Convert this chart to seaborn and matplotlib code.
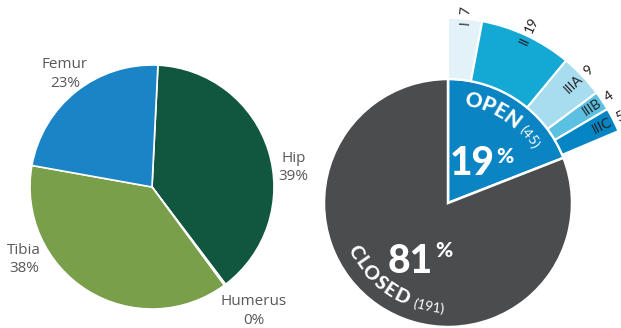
import matplotlib
matplotlib.use("Agg")
import matplotlib.pyplot as plt
import seaborn as sns
import numpy as np

# ---------------- data ----------------
site_labels = ["Hip", "Humerus", "Tibia", "Femur"]
site_values = [39, 0.2, 38, 23]          # percent of fractures by site

fx_labels = ["OPEN", "CLOSED"]
fx_counts = [45, 191]                     # open vs closed fractures
open_types = ["I", "II", "IIIA", "IIIB", "IIIC"]
open_counts = [7, 19, 9, 4, 5]            # open fractures by Gustilo type

# ---------------- style ----------------
sns.set_theme(style="white")
plt.rcParams["font.family"] = ["Lato", "DejaVu Sans"]

site_colors = ["#11573F", "#9BB8D3", "#799F4A", "#1B84C6"]
fx_colors = ["#0A84C3", "#4B4C4E"]
ring_colors = ["#E3F2F8", "#14A8D4", "#A8DCEF", "#5BC0E2", "#0585C4"]

W, H = 621, 328
fig = plt.figure(figsize=(W / 100, H / 100), dpi=100)
ax = fig.add_axes([0, 0, 1, 1])

# layout (pixel units, y up)
L_CX, L_CY, L_R = 152, 141, 122
R_CX, R_CY, R_R = 448, 125, 124
RING_R, RING_W = 185, 61

# ---------------- left pie ----------------
ax.pie(site_values, colors=site_colors, startangle=87.2, counterclock=False,
       radius=L_R, center=(L_CX, L_CY),
       wedgeprops=dict(edgecolor="white", linewidth=1.2))

label_pos = [(293.5, 160.5), (254, 17), (24, 68.5), (65, 254)]
for name, val, (x, y) in zip(site_labels, site_values, label_pos):
    ax.text(x, y, f"{name}\n{round(val):d}%", ha="center", va="center",
            fontsize=11, color="#595959", linespacing=1.3,
            family=["Open Sans", "DejaVu Sans"])

# ---------------- right pie ----------------
total = sum(fx_counts)
ax.pie(fx_counts, colors=fx_colors, startangle=90, counterclock=False,
       radius=R_R, center=(R_CX, R_CY),
       wedgeprops=dict(edgecolor="white", linewidth=1.8))

ring_fracs = np.array(open_counts) / total
ax.pie(ring_fracs, normalize=False, colors=ring_colors, startangle=90,
       counterclock=False, radius=RING_R, center=(R_CX, R_CY),
       wedgeprops=dict(width=RING_W, edgecolor="white", linewidth=1.5))

# ring labels (radial)
cum = np.concatenate([[0], np.cumsum(ring_fracs)])
for name, cnt, a0, a1 in zip(open_types, open_counts, cum[:-1], cum[1:]):
    th = 90 - (a0 + a1) / 2 * 360
    t = np.deg2rad(th)
    ax.text(R_CX + 183 * np.cos(t), R_CY + 183 * np.sin(t), name,
            rotation=th, rotation_mode="anchor", ha="right", va="center",
            fontsize=10, color="#231F20")
    ax.text(R_CX + 189 * np.cos(t), R_CY + 189 * np.sin(t), str(cnt),
            rotation=th, rotation_mode="anchor", ha="left", va="center",
            fontsize=10, color="#231F20")

ax.set_xlim(0, W)
ax.set_ylim(0, H)
ax.set_aspect("equal")
ax.axis("off")

renderer = fig.canvas.get_renderer()


def arc_text(s, r, start_deg, direction, track=0.0, **kw):
    a = np.deg2rad(start_deg)
    fs_px = kw.get("fontsize", 10) * 100 / 72
    for ch in s:
        if ch == " ":
            a += direction * (0.28 * fs_px) / r
            continue
        tmp = ax.text(0, 0, ch, **kw)
        w = tmp.get_window_extent(renderer).width
        tmp.remove()
        c = a + direction * (w / 2) / r
        rot = np.rad2deg(c) - 90 if direction < 0 else np.rad2deg(c) + 90
        ax.text(R_CX + r * np.cos(c), R_CY + r * np.sin(c), ch, rotation=rot,
                rotation_mode="anchor", ha="center", va="center", **kw)
        a = c + direction * (w / 2 + track) / r
    return np.rad2deg(a)


end = arc_text(fx_labels[0], 105, 80.7, -1, track=0.3, fontsize=15,
               fontweight=900, color="white")
arc_text(f"({fx_counts[0]})", 105, end - 2.5, -1, fontsize=10, color="white")
end = arc_text(fx_labels[1], 105, 204.5, +1, track=0.8, fontsize=14,
               fontweight=900, color="white")
arc_text(f"({fx_counts[1]})", 106, end + 2.5, +1, fontsize=10, color="white")

# big percentages
for cnt, (xr, yb, xp, yt) in zip(fx_counts, [(495, 153, 496, 181), (433, 55, 435, 87)]):
    ax.text(xr, yb, f"{round(cnt / total * 100):d}", ha="right", va="baseline",
            fontsize=28, fontweight=900, color="white")
    ax.text(xp, yt, "%", ha="left", va="top", fontsize=15,
            fontweight=900, color="white")

fig.savefig("out.png", dpi=100)
